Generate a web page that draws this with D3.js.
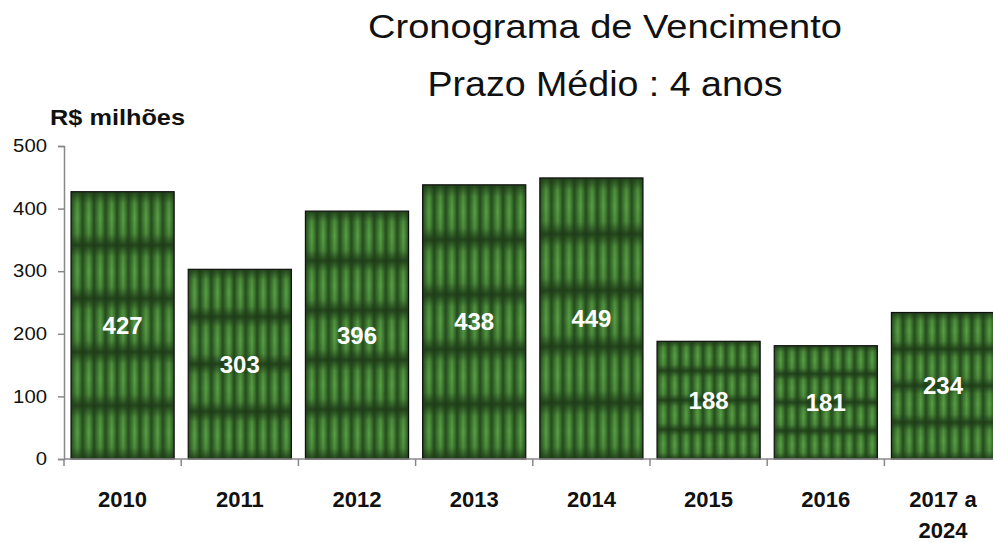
<!DOCTYPE html>
<html>
<head>
<meta charset="utf-8">
<script src="https://cdn.jsdelivr.net/npm/d3@7"></script>
<style>
  body { margin: 0; background: #fff; }
  svg { display: block; font-family: Arial, "Liberation Sans", sans-serif; }
</style>
</head>
<body>
<div id="chart"></div>
<script>
// data
var categories = ["2010", "2011", "2012", "2013", "2014", "2015", "2016", "2017 a 2024"]
var values = [427, 303, 396, 438, 449, 188, 181, 234]
var yTicks = [0, 100, 200, 300, 400, 500]

var W = 993, H = 543
var margin = {top: 146, left: 64, bottom: 84}
var plotW = 8 * 117.2
var plotH = H - margin.top - margin.bottom

var svg = d3.select("#chart").append("svg")
  .attr("width", W).attr("height", H)

var defs = svg.append("defs")

// column gradient (vertical stripes)
var colGrad = defs.append("linearGradient").attr("id", "colGrad")
  .attr("x1", "0").attr("x2", "1").attr("y1", "0").attr("y2", "0")
colGrad.append("stop").attr("offset", "0%").attr("stop-color", "#25491d")
colGrad.append("stop").attr("offset", "30%").attr("stop-color", "#3f7b32")
colGrad.append("stop").attr("offset", "55%").attr("stop-color", "#5a9f45")
colGrad.append("stop").attr("offset", "78%").attr("stop-color", "#3f7b32")
colGrad.append("stop").attr("offset", "100%").attr("stop-color", "#25491d")

// row gradient (dark horizontal bands)
var rowGrad = defs.append("linearGradient").attr("id", "rowGrad")
  .attr("x1", "0").attr("x2", "0").attr("y1", "0").attr("y2", "1")
rowGrad.append("stop").attr("offset", "0%").attr("stop-color", "#1d3a17").attr("stop-opacity", 0.9)
rowGrad.append("stop").attr("offset", "22%").attr("stop-color", "#1d3a17").attr("stop-opacity", 0.15)
rowGrad.append("stop").attr("offset", "50%").attr("stop-color", "#1d3a17").attr("stop-opacity", 0)
rowGrad.append("stop").attr("offset", "78%").attr("stop-color", "#1d3a17").attr("stop-opacity", 0.15)
rowGrad.append("stop").attr("offset", "100%").attr("stop-color", "#1d3a17").attr("stop-opacity", 0.9)

var x = d3.scaleBand()
  .domain(categories)
  .range([margin.left, margin.left + plotW])
  .paddingInner(0.12)
  .paddingOuter(0.06)

var y = d3.scaleLinear()
  .domain([0, 500])
  .range([margin.top + plotH, margin.top])

// titles
svg.append("text").attr("x", 605).attr("y", 38)
  .attr("text-anchor", "middle").attr("font-size", 34).attr("fill", "#111")
  .attr("textLength", 474).attr("lengthAdjust", "spacingAndGlyphs")
  .text("Cronograma de Vencimento")
svg.append("text").attr("x", 605).attr("y", 96)
  .attr("text-anchor", "middle").attr("font-size", 35).attr("fill", "#111")
  .attr("textLength", 355).attr("lengthAdjust", "spacingAndGlyphs")
  .text("Prazo Médio : 4 anos")
svg.append("text").attr("x", 50).attr("y", 125)
  .attr("font-size", 22).attr("font-weight", "bold").attr("fill", "#111")
  .attr("textLength", 135).attr("lengthAdjust", "spacingAndGlyphs")
  .text("R$ milhões")

// bars
var bw = x.bandwidth()
categories.forEach(function (c, i) {
  var bx = x(c), by = y(values[i]), bh = y(0) - y(values[i])
  var rows = Math.max(4, Math.round(bh / 55))
  var pw = bw / 9, ph = bh / rows
  var p = defs.append("pattern").attr("id", "pat" + i)
    .attr("patternUnits", "userSpaceOnUse")
    .attr("x", bx).attr("y", by).attr("width", pw).attr("height", ph)
  p.append("rect").attr("width", pw).attr("height", ph).attr("fill", "url(#colGrad)")
  p.append("rect").attr("width", pw).attr("height", ph).attr("fill", "url(#rowGrad)")
})

svg.selectAll(".bar").data(values).enter().append("rect")
  .attr("class", "bar")
  .attr("x", (d, i) => x(categories[i]))
  .attr("y", d => y(d))
  .attr("width", bw)
  .attr("height", d => y(0) - y(d))
  .attr("fill", (d, i) => "url(#pat" + i + ")")
  .attr("stroke", "#111").attr("stroke-width", 1.2)

svg.selectAll(".val").data(values).enter().append("text")
  .attr("class", "val")
  .attr("x", (d, i) => x(categories[i]) + bw / 2)
  .attr("y", d => (y(d) + y(0)) / 2 + 8.5)
  .attr("text-anchor", "middle")
  .attr("font-size", 24).attr("font-weight", "bold").attr("fill", "#fff")
  .text(d => d)

// axes
var yAxis = svg.append("g")
  .attr("transform", "translate(" + margin.left + ",0)")
  .call(d3.axisLeft(y).tickValues(yTicks).tickSize(6).tickPadding(11))
yAxis.select(".domain").attr("stroke", "#888").attr("stroke-width", 1.5)
yAxis.selectAll(".tick line").attr("stroke", "#888").attr("stroke-width", 1.5)
yAxis.selectAll(".tick text").attr("font-size", 18).attr("fill", "#111")
  .attr("font-family", "Arial, 'Liberation Sans', sans-serif")
  .attr("textLength", d => String(d).length * 11.3)
  .attr("lengthAdjust", "spacingAndGlyphs")

var gx = svg.append("g")
gx.append("line")
  .attr("x1", margin.left).attr("x2", margin.left + plotW)
  .attr("y1", y(0)).attr("y2", y(0))
  .attr("stroke", "#888").attr("stroke-width", 1.5)
gx.selectAll(".xt").data(d3.range(categories.length + 1)).enter().append("line")
  .attr("x1", d => margin.left + d * plotW / categories.length)
  .attr("x2", d => margin.left + d * plotW / categories.length)
  .attr("y1", y(0)).attr("y2", y(0) + 7)
  .attr("stroke", "#888").attr("stroke-width", 1.5)

var xl = gx.selectAll(".xl").data(categories).enter().append("text")
  .attr("x", d => x(d) + bw / 2)
  .attr("y", 507)
  .attr("text-anchor", "middle")
  .attr("font-size", 22).attr("font-weight", "bold").attr("fill", "#111")
xl.each(function (d) {
  var parts = d === "2017 a 2024" ? ["2017 a", "2024"] : [d]
  var t = d3.select(this)
  parts.forEach(function (s, k) {
    t.append("tspan").attr("x", x(d) + bw / 2).attr("dy", k ? 31 : 0).text(s)
  })
})
</script>
</body>
</html>
